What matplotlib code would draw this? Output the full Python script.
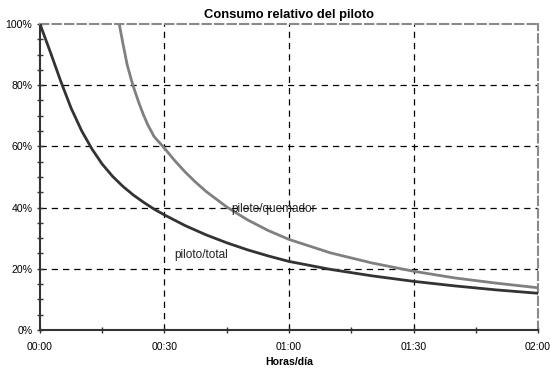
import matplotlib
matplotlib.use("Agg")
import matplotlib.pyplot as plt
from matplotlib import ticker

plt.rcParams['font.family'] = ['Liberation Sans', 'DejaVu Sans']

# minutos de uso por día y porcentaje de consumo del piloto
t_total = [0, 2.5, 5, 7.5, 10, 12.5, 15, 17.5, 20, 22.5, 25, 27.5, 30, 35,
           40, 45, 50, 55, 60, 70, 80, 90, 100, 110, 120]
piloto_total = [100, 90.8, 81.3, 72.5, 65.2, 59.2, 54.2, 50.2, 46.9, 44.1,
                41.7, 39.5, 37.6, 34.1, 31.1, 28.5, 26.2, 24.2, 22.4, 19.8,
                17.7, 15.9, 14.4, 13.1, 12.0]

t_quem = [19.1, 20, 21, 22, 22.4, 23, 24, 25, 26, 27.5, 30, 32.5, 35, 37.5,
          40, 45, 50, 55, 60, 70, 80, 90, 100, 110, 120]
piloto_quemador = [100, 93.5, 86.7, 81.8, 80, 77.5, 73.6, 70.1, 67.0, 63.2,
                   59.4, 55.3, 51.6, 48.3, 45.3, 40.2, 36.0, 32.5, 29.6, 25.2,
                   21.9, 19.2, 17.0, 15.3, 13.8]

x_ticks = [0, 30, 60, 90, 120]
x_labels = ['00:00', '00:30', '01:00', '01:30', '02:00']

fig = plt.figure(figsize=(5.5, 3.69), dpi=100)
ax = fig.add_axes([0.0727, 0.1057, 0.9055, 0.8293])

ax.plot(t_total, piloto_total, color='#333333', lw=2, zorder=3)
ax.plot(t_quem, piloto_quemador, color='#808080', lw=2, zorder=3)

ax.set_xlim(0, 120)
ax.set_ylim(0, 100)

ax.xaxis.set_major_locator(ticker.FixedLocator(x_ticks))
ax.xaxis.set_major_formatter(ticker.FixedFormatter(x_labels))
ax.xaxis.set_minor_locator(ticker.MultipleLocator(15))
ax.yaxis.set_major_locator(ticker.MultipleLocator(20))
ax.yaxis.set_minor_locator(ticker.MultipleLocator(5))
ax.yaxis.set_major_formatter(ticker.FuncFormatter(lambda v, p: '%d%%' % v))

ax.tick_params(which='both', direction='inout', length=5, width=1, color='#333333',
               labelsize=7.6, pad=3)
ax.tick_params(axis='x', pad=6)

# rejilla discontinua
for xv in x_ticks[1:-1]:
    ax.axvline(xv, color='black', lw=0.9, ls=(0, (5, 4)), zorder=1)
for yv in [20, 40, 60, 80]:
    ax.axhline(yv, color='black', lw=0.9, ls=(0, (5, 4)), zorder=1)

for s in ['left', 'bottom']:
    ax.spines[s].set_color('#333333')
    ax.spines[s].set_linewidth(1.5)
for s in ['top', 'right']:
    ax.spines[s].set_color('#8a8a8a')
    ax.spines[s].set_linewidth(1.5)
    ax.spines[s].set_linestyle((0, (4, 2)))

ax.text(46.2, 38.4, 'piloto/quemador', fontsize=8.5, color='#222222', zorder=4)
ax.text(32.3, 23.6, 'piloto/total', fontsize=8.5, color='#222222', zorder=4)

ax.set_title('Consumo relativo del piloto', fontsize=9.4, fontweight='bold', pad=4)
ax.set_xlabel('Horas/día', fontsize=7.6, fontweight='bold', labelpad=4)

fig.savefig('out.png', dpi=100)
